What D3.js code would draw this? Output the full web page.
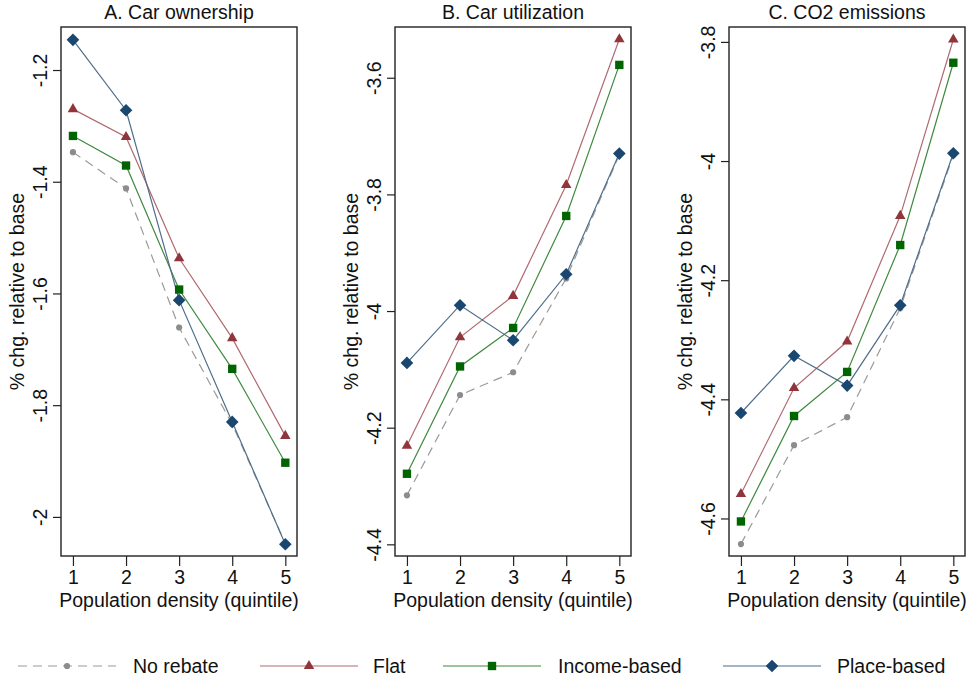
<!DOCTYPE html>
<html lang="en">
<head>
<meta charset="UTF-8">
<title>Rebate scenarios by population density</title>
<script src="https://d3js.org/d3.v7.min.js"></script>
<style>
  body { margin: 0; background: #fff; }
  svg text { font-family: "Liberation Sans", Arial, sans-serif; fill: #111; }
</style>
</head>
<body>
<div id="chart"></div>
<script>
// quintiles of population density
const quintiles = [1, 2, 3, 4, 5];

// series names + panel titles
const seriesNames = ["No rebate", "Flat", "Income-based", "Place-based"];
const panelTitles = ["A. Car ownership", "B. Car utilization", "C. CO2 emissions"];

// A. Car ownership
const ownNoRebate = [-1.347, -1.412, -1.661, -1.834, -2.048];
const ownFlat     = [-1.270, -1.320, -1.537, -1.680, -1.855];
const ownIncome   = [-1.318, -1.371, -1.593, -1.735, -1.903];
const ownPlace    = [-1.146, -1.272, -1.612, -1.830, -2.049];

// B. Car utilization
const utilNoRebate = [-4.316, -4.144, -4.105, -3.944, -3.732];
const utilFlat     = [-4.231, -4.045, -3.974, -3.784, -3.534];
const utilIncome   = [-4.279, -4.095, -4.029, -3.837, -3.578];
const utilPlace    = [-4.089, -3.990, -4.050, -3.937, -3.730];

// C. CO2 emissions
const co2NoRebate = [-4.643, -4.477, -4.430, -4.247, -3.990];
const co2Flat     = [-4.559, -4.381, -4.303, -4.092, -3.796];
const co2Income   = [-4.605, -4.428, -4.354, -4.141, -3.835];
const co2Place    = [-4.423, -4.327, -4.377, -4.242, -3.987];

// y tick labels per panel
const ownTicks  = [-2, -1.8, -1.6, -1.4, -1.2];
const utilTicks = [-4.4, -4.2, -4, -3.8, -3.6];
const co2Ticks  = [-4.6, -4.4, -4.2, -4, -3.8];

const panels = [
  { title: panelTitles[0], series: [ownNoRebate, ownFlat, ownIncome, ownPlace], ticks: ownTicks, ydom: [-2.070, -1.123] },
  { title: panelTitles[1], series: [utilNoRebate, utilFlat, utilIncome, utilPlace], ticks: utilTicks, ydom: [-4.420, -3.513] },
  { title: panelTitles[2], series: [co2NoRebate, co2Flat, co2Income, co2Place], ticks: co2Ticks, ydom: [-4.663, -3.775] }
];

// styles: stata-ish s2color palette
const styles = [
  { color: "#8c8c8c", line: "#9a9a9a", dash: "9,6", symbol: d3.symbolCircle, size: 30, rot: 0 },
  { color: "#90353b", line: "#b06a70", dash: null, symbol: d3.symbolTriangle, size: 48, rot: 0 },
  { color: "#006400", line: "#3f8a3f", dash: null, symbol: d3.symbolSquare, size: 70, rot: 0 },
  { color: "#1a476f", line: "#4f6d8a", dash: null, symbol: d3.symbolSquare, size: 80, rot: 45 }
];

const W = 971, H = 683;
const box = { w: 236, top: 27, bottom: 556 };
const boxLeft = [61, 395, 729];
const fs = "19.5px";

const svg = d3.select("#chart").append("svg")
  .attr("width", W).attr("height", H);

panels.forEach((p, i) => {
  const x = d3.scaleLinear().domain([0.775, 5.22]).range([0, box.w]);
  const y = d3.scaleLinear().domain(p.ydom).range([box.bottom - box.top, 0]);
  const h = box.bottom - box.top;

  const g = svg.append("g").attr("transform", `translate(${boxLeft[i]},${box.top})`);

  // title
  g.append("text")
    .attr("x", box.w / 2).attr("y", -8)
    .attr("text-anchor", "middle")
    .style("font-size", fs)
    .text(p.title);

  // x axis
  const xa = g.append("g")
    .attr("transform", `translate(0,${h})`)
    .call(d3.axisBottom(x).tickValues(quintiles).tickSize(10).tickPadding(4).tickFormat(d3.format("d")));
  xa.select(".domain").remove();
  xa.selectAll("line").attr("stroke", "#222").attr("stroke-width", 1.2);
  xa.selectAll("text").style("font-size", fs).attr("fill", "#111").attr("font-family", null);

  // y axis
  const ya = g.append("g")
    .call(d3.axisLeft(y).tickValues(p.ticks).tickSize(8).tickFormat(d => String(d)));
  ya.select(".domain").remove();
  ya.selectAll("line").attr("stroke", "#222").attr("stroke-width", 1.2);
  ya.selectAll("text")
    .attr("x", null).attr("dy", "0.35em")
    .attr("text-anchor", "middle")
    .attr("transform", "translate(-21,0) rotate(-90)")
    .style("font-size", fs).attr("fill", "#111").attr("font-family", null);

  // frame
  g.append("rect")
    .attr("width", box.w).attr("height", h)
    .attr("fill", "none").attr("stroke", "#222").attr("stroke-width", 1.4);

  // axis titles
  g.append("text")
    .attr("x", box.w / 2).attr("y", h + 51)
    .attr("text-anchor", "middle")
    .style("font-size", fs)
    .text("Population density (quintile)");
  g.append("text")
    .attr("transform", `translate(-44,${h / 2}) rotate(-90)`)
    .attr("text-anchor", "middle")
    .attr("dy", "0.35em")
    .style("font-size", fs)
    .text("% chg. relative to base");

  const line = d3.line().x((d, k) => x(quintiles[k])).y(d => y(d));

  p.series.forEach((vals, s) => {
    const st = styles[s];
    g.append("path")
      .datum(vals)
      .attr("d", line)
      .attr("fill", "none")
      .attr("stroke", st.line)
      .attr("stroke-width", 1.2)
      .attr("stroke-dasharray", st.dash);
  });
  p.series.forEach((vals, s) => {
    const st = styles[s];
    g.selectAll(null)
      .data(vals)
      .join("path")
      .attr("transform", (d, k) => `translate(${x(quintiles[k])},${y(d)}) rotate(${st.rot})`)
      .attr("d", d3.symbol().type(st.symbol).size(st.size))
      .attr("fill", st.color);
  });
});

// legend
const legendY = 666;
const legendItems = [
  { lx: 18, tx: 133 },
  { lx: 260, tx: 373 },
  { lx: 443, tx: 558 },
  { lx: 723, tx: 837 }
];
const legendLen = 98;
seriesNames.forEach((name, s) => {
  const st = styles[s];
  const it = legendItems[s];
  const lg = svg.append("g");
  lg.append("line")
    .attr("x1", it.lx).attr("x2", it.lx + legendLen)
    .attr("y1", legendY).attr("y2", legendY)
    .attr("stroke", st.line).attr("stroke-width", 1.2)
    .attr("stroke-dasharray", st.dash);
  lg.append("path")
    .attr("transform", `translate(${it.lx + legendLen / 2},${legendY}) rotate(${st.rot})`)
    .attr("d", d3.symbol().type(st.symbol).size(st.size))
    .attr("fill", st.color);
  lg.append("text")
    .attr("x", it.tx).attr("y", legendY)
    .attr("dy", "0.35em")
    .style("font-size", fs)
    .text(name);
});
</script>
</body>
</html>
